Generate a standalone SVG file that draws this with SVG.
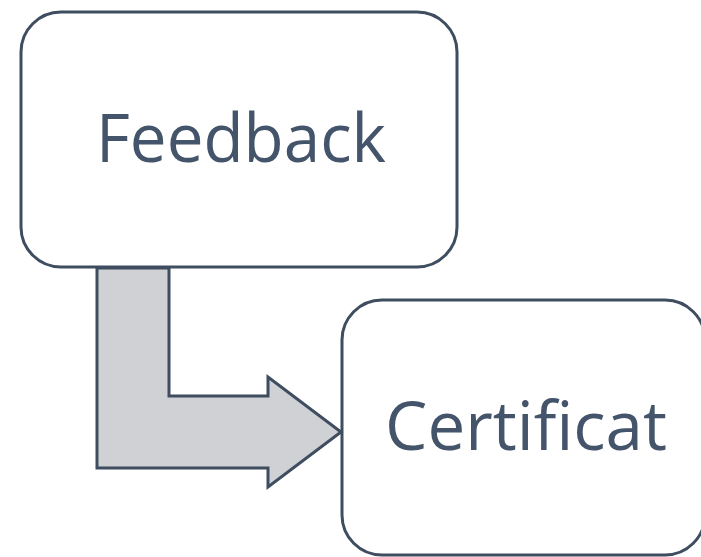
<svg xmlns="http://www.w3.org/2000/svg" width="701" height="557" viewBox="0 0 701 557">
<style>
.box{fill:#ffffff;stroke:#3f4d60;stroke-width:3}
.lbl{font-family:"Open Sans","Noto Sans",sans-serif;fill:#44546a;text-anchor:middle}
.arrow{fill:#cfd1d5;stroke:#3f4d60;stroke-width:3;stroke-linejoin:miter}
</style>
<rect width="701" height="557" fill="#ffffff"/>
<g id="connectors">
<path class="arrow" d="M97,268 L169,268 L169,396 L268,396 L268,377 L341,432 L268,487 L268,468 L97,468 Z"/>
</g>
<g id="node-feedback">
<rect class="box" x="21" y="12" width="436" height="255" rx="40" ry="40"/>
<text class="lbl" x="241" y="162" font-size="68" textLength="290" lengthAdjust="spacingAndGlyphs">Feedback</text>
</g>
<g id="node-certificat">
<rect class="box" x="342" y="300" width="363" height="255" rx="40" ry="40"/>
<text class="lbl" x="526" y="450" font-size="67" textLength="282" lengthAdjust="spacingAndGlyphs">Certificat</text>
</g>
</svg>
